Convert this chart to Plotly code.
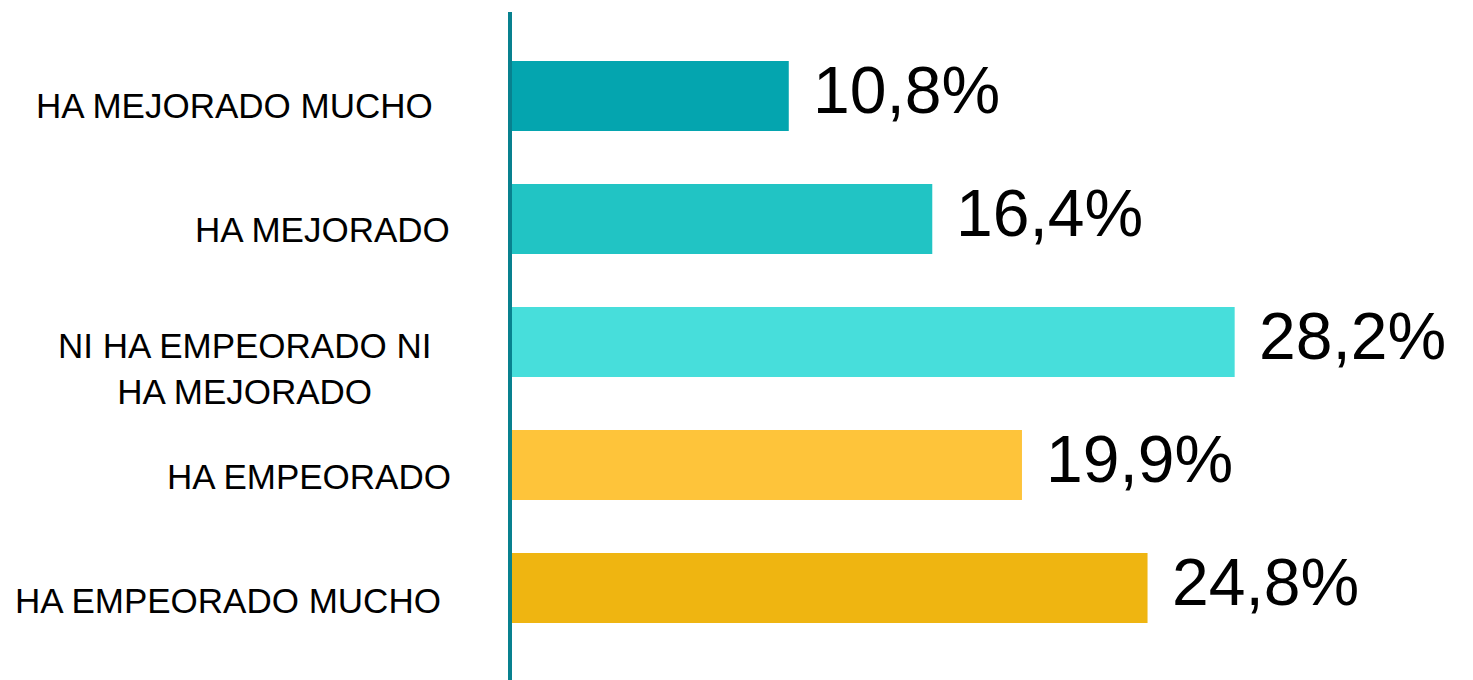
import plotly.graph_objects as go

categories = ["HA MEJORADO MUCHO", "HA MEJORADO", "NI HA EMPEORADO NI<br>HA MEJORADO",
              "HA EMPEORADO", "HA EMPEORADO MUCHO"]
values = [10.8, 16.4, 28.2, 19.9, 24.8]
value_labels = ["10,8%", "16,4%", "28,2%", "19,9%", "24,8%"]
colors = ["#04A5AF", "#21C4C4", "#47DEDB", "#FEC43A", "#EFB511"]

W, H = 1473, 680
L = 512
PW = W - L

fig = go.Figure()
fig.add_trace(go.Bar(
    x=values, y=list(range(len(categories))), orientation="h",
    marker=dict(color=colors, line=dict(width=0)),
    width=0.57, hoverinfo="skip",
))

label_right_px = [435, 452, 433, 453, 443]
label_yshift = [-9, -10, -26, -11, -12]
for i, cat in enumerate(categories):
    fig.add_annotation(
        x=(label_right_px[i] - L) / PW, xref="paper", y=i, yref="y",
        text=cat, showarrow=False, xanchor="right", yanchor="middle", align="center",
        yshift=label_yshift[i],
        font=dict(family="Liberation Sans, Arial, sans-serif", size=35, color="#000000"),
    )
    fig.add_annotation(
        x=values[i], xref="x", y=i, yref="y",
        text=value_labels[i], showarrow=False, xanchor="left", yanchor="middle",
        xshift=22, yshift=6,
        font=dict(family="Liberation Sans, Arial, sans-serif", size=66, color="#000000"),
    )

fig.update_layout(
    width=W, height=H,
    margin=dict(l=L, r=0, t=12, b=0),
    paper_bgcolor="white", plot_bgcolor="white",
    showlegend=False,
    xaxis=dict(range=[0, 37.5], visible=False, fixedrange=True),
    yaxis=dict(range=[4.748, -0.683], showticklabels=False, showgrid=False, zeroline=False,
               showline=True, linecolor="#08818F", linewidth=4, ticks="", fixedrange=True),
)

fig.write_html("out.html", config={"displayModeBar": False},
               post_script="document.body.style.margin='0';document.body.style.overflow='hidden';")
